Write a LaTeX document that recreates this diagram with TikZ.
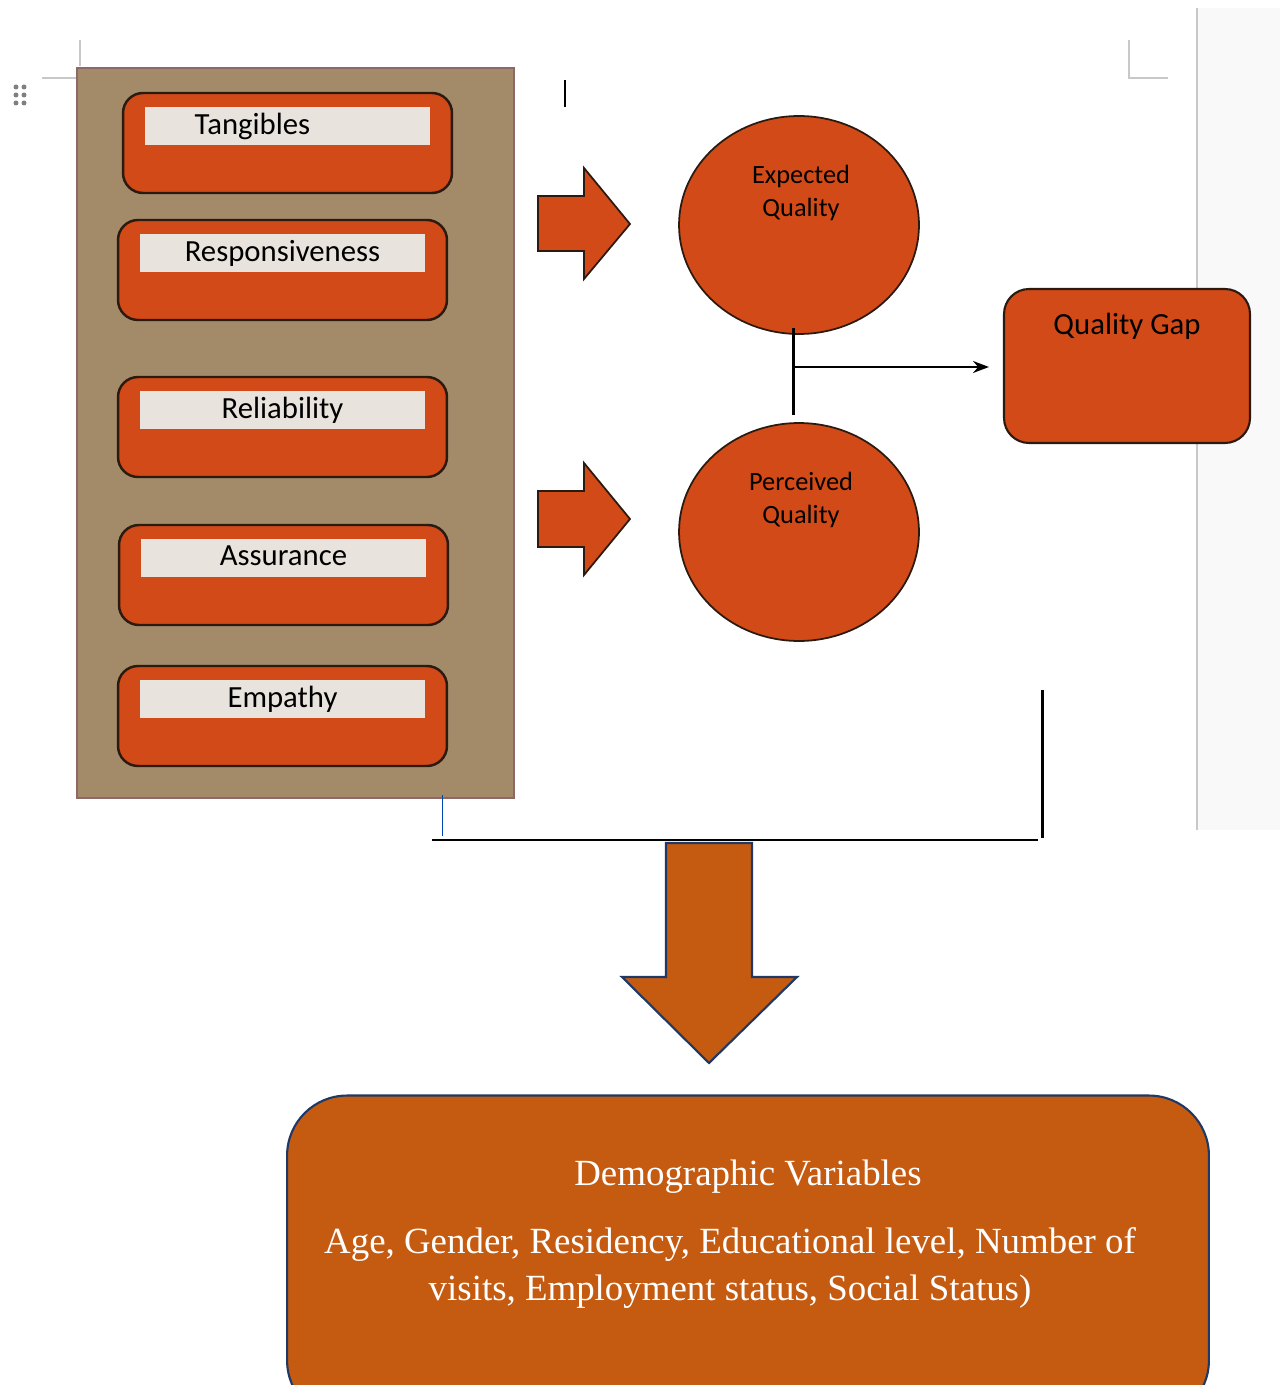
\documentclass[tikz,border=0pt]{standalone}
\usepackage{fontspec}
\setmainfont{Liberation Serif}
\newfontfamily\calibri{Carlito}
\usepackage{xcolor}
\usetikzlibrary{positioning,calc,shapes.geometric,arrows.meta}

\definecolor{boxred}{HTML}{D24A17}
\definecolor{boxedge}{HTML}{2B1A10}
\definecolor{tanfill}{HTML}{A38B6A}
\definecolor{tanedge}{HTML}{8E6868}
\definecolor{stripfill}{HTML}{E8E4DD}
\definecolor{demofill}{HTML}{C55A11}
\definecolor{navyedge}{HTML}{1F3864}
\definecolor{pagegray}{HTML}{F9F9F9}
\definecolor{markgray}{HTML}{C8C8C8}

\begin{document}
\begin{tikzpicture}[
		x=0.02cm, y=-0.02cm,
		% Style for the five dimension boxes
		dimbox/.style={draw=boxedge, fill=boxred, line width=1.4pt, rounded corners=0.4cm,
			minimum width=6.58cm, minimum height=2cm, inner sep=0},
		% Style for the light label strips
		dimstrip/.style={fill=stripfill, minimum width=5.7cm, minimum height=0.76cm, inner sep=0,
			text width=5.7cm, align=center, text depth=0.1cm, font=\calibri\fontsize{17.5}{21}\selectfont},
		% Style for the two quality ellipses
		qualcirc/.style={ellipse, draw=boxedge, fill=boxred, line width=1pt,
			minimum width=4.8cm, minimum height=4.36cm, inner sep=0},
		circtext/.style={align=center, font=\calibri\fontsize{15}{19.3}\selectfont},
		% Style for the block arrows
		blockarrow/.style={draw=boxedge, fill=boxred, line width=1pt, line join=miter},
		link/.style={black, line width=1.7pt}
		]
		\useasboundingbox (0,0) rectangle (1280,1385);
		\clip (0,0) rectangle (1280,1385);

		% --- PAGE EDGE AND MARKS ---
		\fill[pagegray] (1197,8) rectangle (1280,830);
		\draw[markgray, line width=0.6pt] (1197,8) -- (1197,830);
		\draw[markgray, line width=0.6pt] (80,40) -- (80,66);
		\draw[markgray, line width=0.6pt] (42,78) -- (76,78);
		\draw[markgray, line width=0.6pt] (1129,40) -- (1129,78) -- (1168,78);
		\foreach \gx in {16,24}
			\foreach \gy in {87,95,103}
				\fill[gray] (\gx,\gy) circle (0.05cm);
		\draw[black, line width=1.2pt] (565,80) -- (565,107);

		% --- DIMENSIONS PANEL ---
		\node[draw=tanedge, fill=tanfill, line width=1pt, minimum width=8.74cm, minimum height=14.6cm,
			inner sep=0] (dims) at (295.5,433) {};

		\node[dimbox] (tang) at (287.5,143) {};
		\node[dimstrip, below=0.3cm of tang.north] (tangl) {Tangibles\hspace*{1.4cm}\null};

		\node[dimbox] (resp) at (282.5,270) {};
		\node[dimstrip, below=0.3cm of resp.north] (respl) {Responsiveness};

		\node[dimbox] (reli) at (282.5,427) {};
		\node[dimstrip, below=0.3cm of reli.north] (relil) {Reliability};

		\node[dimbox] (assu) at (283.5,575) {};
		\node[dimstrip, below=0.3cm of assu.north] (assul) {Assurance};

		\node[dimbox] (empa) at (282.5,716) {};
		\node[dimstrip, below=0.3cm of empa.north] (empal) {Empathy};

		% --- BLOCK ARROWS ---
		\draw[blockarrow] (538,196) -- (584,196) -- (584,168) -- (630,224) -- (584,279) -- (584,251) -- (538,251) -- cycle;
		\draw[blockarrow] (538,491) -- (584,491) -- (584,463) -- (630,519) -- (584,575) -- (584,547) -- (538,547) -- cycle;

		% --- QUALITY ELLIPSES ---
		\node[qualcirc] (expq) at (799,225) {};
		\node[circtext] (expqt) at ($(expq.center)+(2,-32)$) {Expected\\Quality};

		\node[qualcirc] (perq) at (799,532) {};
		\node[circtext] (perqt) at ($(perq.center)+(2,-32)$) {Perceived\\Quality};

		% --- QUALITY GAP ---
		\node[draw=boxedge, fill=boxred, line width=1.2pt, rounded corners=0.5cm,
			minimum width=4.92cm, minimum height=3.08cm, inner sep=0] (qgap) at (1127,366) {};
		\node[anchor=base, font=\calibri\fontsize{17.5}{21}\selectfont] (qgapt) at (1127,335) {Quality Gap};

		% --- CONNECTOR TO QUALITY GAP ---
		\coordinate (jtop) at (793,328);
		\coordinate (jbot) at (793,415);
		\coordinate (jmid) at (793,367);
		\draw[link] (jtop) -- (jbot);
		\draw[-{Stealth[length=0.32cm,width=0.24cm]}, black, line width=1.2pt, shorten >=0.28cm] (jmid) -- (jmid -| qgap.west);

		% --- BRACKET ---
		\coordinate (brtop) at (1042,690);
		\coordinate (brcorner) at (1042,838);
		\coordinate (brleft) at (432,840);
		\draw[link] (brtop) -- (brcorner);
		\draw[black, line width=0.8pt] (brleft) -- (1038,840);
		\draw[blue!60!cyan!70!black, line width=0.5pt] (442,795) -- (442,836);

		% --- DOWN ARROW ---
		\draw[draw=navyedge, fill=demofill, line width=1.2pt, line join=miter]
			(666,843) -- (752,843) -- (752,977) -- (797,977) -- (709,1063) -- (622,977) -- (666,977) -- cycle;

		% --- DEMOGRAPHIC VARIABLES ---
		\node[draw=navyedge, fill=demofill, line width=1.2pt, rounded corners=1.2cm,
			minimum width=18.44cm, minimum height=6.5cm, inner sep=0] (demo) at (748,1258) {};
		\node[white, font=\fontsize{21}{26.6}\selectfont] (demot) at (748,1177) {Demographic Variables};
		\node[white, align=center, font=\fontsize{21}{26.6}\selectfont] (demob) at (730,1268)
			{Age, Gender, Residency, Educational level, Number of\\visits, Employment status, Social Status)};

	\end{tikzpicture}
\end{document}
